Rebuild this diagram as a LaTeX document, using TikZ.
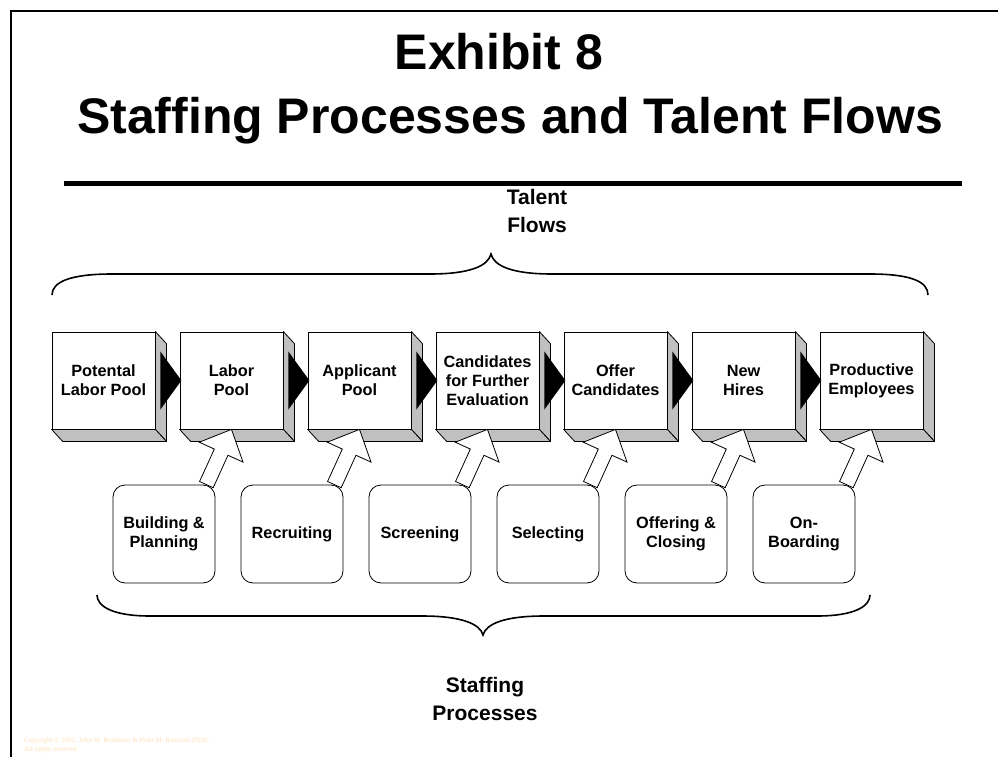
\documentclass[tikz,border=0pt]{standalone}
\usepackage{fontspec}
\setmainfont{Liberation Sans}
\newfontfamily\copyfont{Liberation Serif}
\usetikzlibrary{calc}

\definecolor{facegray}{RGB}{192,192,192}
\definecolor{copyorange}{RGB}{255,224,182}

\newcommand{\tftitlefont}{\fontsize{50}{60}\selectfont\bfseries}
\newcommand{\tfbracefont}{\fontsize{21}{28}\selectfont\bfseries}
\newcommand{\tfboxfont}{\fontsize{16.3}{19}\selectfont\bfseries}

% gray depth faces of a flow box
\newcommand{\boxfaces}[1]{%
  \filldraw[face] (#1.north east) -- ++(11,12) -- ($(#1.south east)+(11,12)$) -- (#1.south east) -- cycle;
  \filldraw[face] (#1.south west) -- ++(11,12) -- ($(#1.south east)+(11,12)$) -- (#1.south east) -- cycle;}

% black pointer on the side face
\newcommand{\flowtip}[1]{%
  \fill ($(#1.east)+(5,-29)$) -- ($(#1.east)+(26,0)$) -- ($(#1.east)+(5,29)$) -- cycle;}

% white block arrow: tail #1, tip #2
\newcommand{\hollowarrow}[2]{%
  \coordinate (ha) at #1;
  \coordinate (hb) at #2;
  \coordinate (hh) at ($(hb)!25pt!(ha)$);
  \filldraw[hollow] ($(ha)!7.5pt!90:(hb)$) -- ($(hh)!7.5pt!90:(hb)$) -- ($(hh)!24pt!90:(hb)$)
    -- (hb) -- ($(hh)!24pt!-90:(hb)$) -- ($(hh)!7.5pt!-90:(hb)$) -- ($(ha)!7.5pt!-90:(hb)$) -- cycle;}

\begin{document}
\begin{tikzpicture}[x=1pt, y=-1pt,
    tflow/.style={draw, line width=0.8pt, fill=white, minimum width=103pt, minimum height=97pt,
      inner sep=0pt, align=center, font=\tfboxfont},
    sproc/.style={draw, line width=0.8pt, fill=white, rounded corners=12pt, minimum width=102pt,
      minimum height=98pt, inner sep=0pt, align=center, font=\tfboxfont},
    face/.style={fill=facegray, draw=black, line width=0.8pt, line join=round},
    hollow/.style={fill=white, draw=black, line width=0.8pt, line join=miter},
    brace/.style={line width=1.6pt}]
    \useasboundingbox (0,0) rectangle (998,757);

    % --- Khung và tiêu đề ---
    \draw[line width=2.5pt] (11,757) -- (11,11) -- (998,11);
    \node[font=\tftitlefont, anchor=base] (title1) at (499,70) {Exhibit 8};
    \node[font=\tftitlefont, anchor=base] (title2) at (510,133) {Staffing Processes and Talent Flows};
    \draw[line width=5pt] (64,183) -- (962,183);

    % --- Talent flows ---
    \node[font=\tfbracefont, align=center] (talent) at (537,211) {Talent\\Flows};
    \draw[brace] (52,295) .. controls (52,282) and (70,274) .. (112,274) -- (430,274)
        .. controls (470,274) and (488,266) .. (491,254)
        .. controls (494,266) and (512,274) .. (552,274) -- (870,274)
        .. controls (912,274) and (928,282) .. (928,295);

    \node[tflow] (tf1) at (103.5,380.5) {Potental\\Labor Pool};
    \node[tflow] (tf2) at (231.5,380.5) {Labor\\Pool};
    \node[tflow] (tf3) at (359.5,380.5) {Applicant\\Pool};
    \node[tflow] (tf4) at (487.5,380.5) {Candidates\\for Further\\Evaluation};
    \node[tflow] (tf5) at (615.5,380.5) {Offer\\Candidates};
    \node[tflow] (tf6) at (743.5,380.5) {New\\Hires};
    \node[tflow] (tf7) at (871.5,380.5) {Productive\\Employees};

    \boxfaces{tf1} \boxfaces{tf2} \boxfaces{tf3} \boxfaces{tf4}
    \boxfaces{tf5} \boxfaces{tf6} \boxfaces{tf7}

    \flowtip{tf1} \flowtip{tf2} \flowtip{tf3}
    \flowtip{tf4} \flowtip{tf5} \flowtip{tf6}

    % --- Staffing processes ---
    \node[sproc] (bp1) at (164,534) {Building \&\\Planning};
    \node[sproc] (bp2) at (292,534) {Recruiting};
    \node[sproc] (bp3) at (420,534) {Screening};
    \node[sproc] (bp4) at (548,534) {Selecting};
    \node[sproc] (bp5) at (676,534) {Offering \&\\Closing};
    \node[sproc] (bp6) at (804,534) {On-\\Boarding};

    \hollowarrow{($(bp1.north east)+(-9,0)$)}{(tf2.south)}
    \hollowarrow{($(bp2.north east)+(-9,0)$)}{(tf3.south)}
    \hollowarrow{($(bp3.north east)+(-9,0)$)}{(tf4.south)}
    \hollowarrow{($(bp4.north east)+(-9,0)$)}{(tf5.south)}
    \hollowarrow{($(bp5.north east)+(-9,0)$)}{(tf6.south)}
    \hollowarrow{($(bp6.north east)+(-9,0)$)}{(tf7.south)}

    \draw[brace] (97,595) .. controls (97,606) and (112,616) .. (150,616) -- (422,616)
        .. controls (462,616) and (480,624) .. (483,635)
        .. controls (486,624) and (504,616) .. (544,616) -- (817,616)
        .. controls (855,616) and (870,606) .. (870,595);
    \node[font=\tfbracefont, align=center] (staffing) at (485,699) {Staffing\\Processes};

    % --- Bản quyền ---
    \node[font=\copyfont\fontsize{7}{9}\selectfont, text=copyorange, align=left, anchor=west,
        inner sep=0pt] (copy) at (24,745)
        {Copyright \textcopyright{} 2001, John W. Boudreau \& Peter M. Ramstad (PDI).\\All rights reserved.};
\end{tikzpicture}
\end{document}
